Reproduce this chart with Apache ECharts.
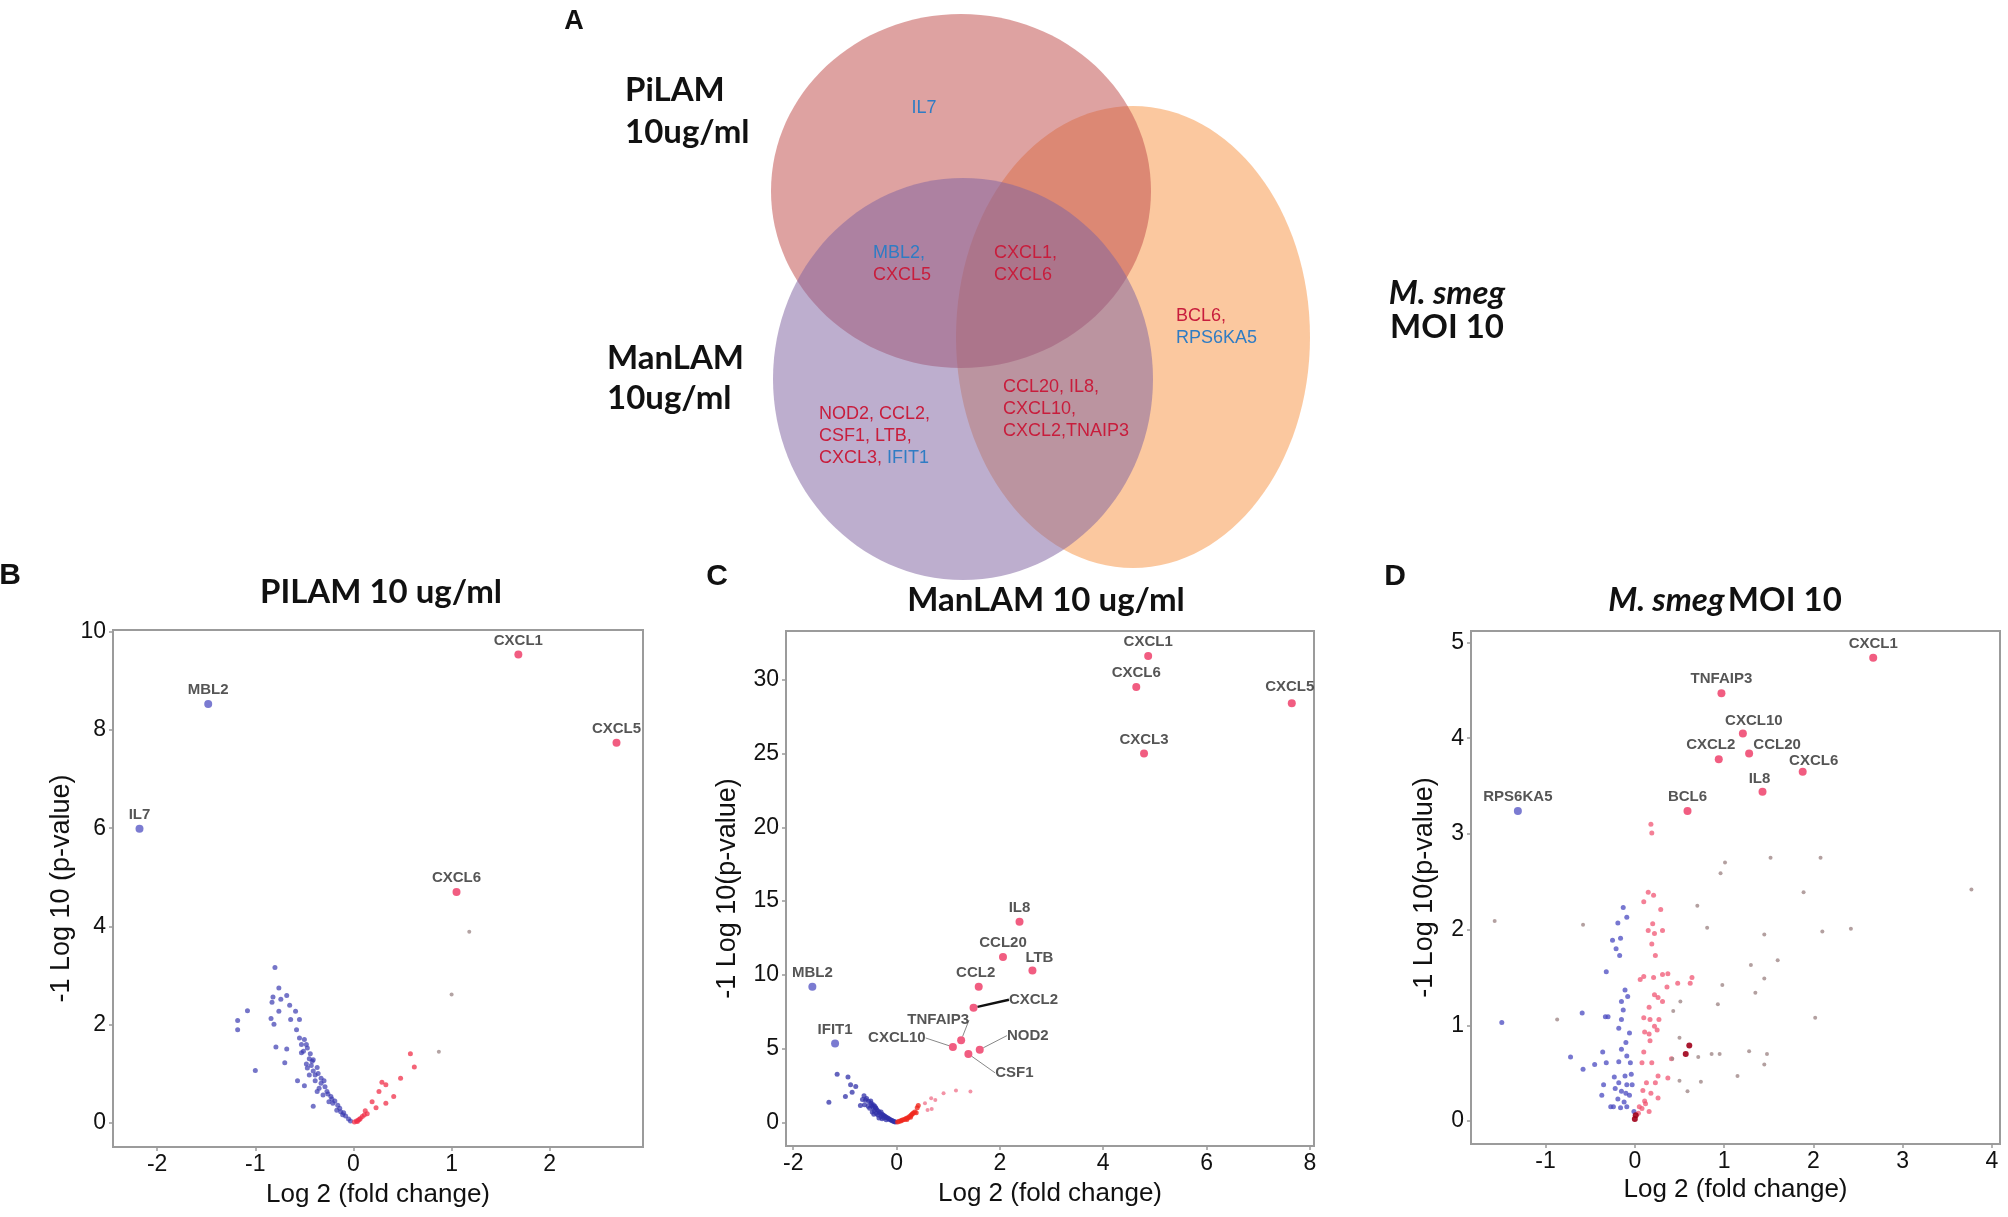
<!DOCTYPE html>
<html><head><meta charset="utf-8">
<script src="https://cdn.jsdelivr.net/npm/echarts@6/dist/echarts.min.js"></script>
<style>html,body{margin:0;padding:0;background:#fff}#c{width:2008px;height:1217px}</style>
</head><body><div id="c"></div>
<script>
// ---------------- DATA ----------------
// Venn diagram gene lists (each line: list of [gene text, direction])
const vennPiLAMOnly = [[['IL7', 'down']]];
const vennPiManOnly = [[['MBL2,', 'down']], [['CXCL5', 'up']]];
const vennAllThree = [[['CXCL1,', 'up']], [['CXCL6', 'up']]];
const vennSmegOnly = [[['BCL6,', 'up']], [['RPS6KA5', 'down']]];
const vennManSmeg = [[['CCL20, IL8,', 'up']], [['CXCL10,', 'up']], [['CXCL2,TNAIP3', 'up']]];
const vennManOnly = [[['NOD2, CCL2,', 'up']], [['CSF1, LTB,', 'up']], [['CXCL3, ', 'up'], ['IFIT1', 'down']]];

// Panel B: PILAM 10 ug/ml
const pilamXTicks = [-2, -1, 0, 1, 2];
const pilamYTicks = [0, 2, 4, 6, 8, 10];
const pilamGenes = ['IL7', 'MBL2', 'CXCL1', 'CXCL5', 'CXCL6'];
const pilamGeneX = [-2.18, -1.48, 1.68, 2.68, 1.05];
const pilamGeneY = [5.99, 8.53, 9.54, 7.74, 4.70];
const pilamGeneDir = ['down', 'down', 'up', 'up', 'up'];
const pilamDown = [[-0.80,3.16],[-0.76,2.74],[-0.82,2.56],[-0.68,2.59],[-0.74,2.51],[-0.83,2.45],[-1.08,2.28],[-0.76,2.27],[-0.59,2.27],[-0.65,2.39],[-1.18,2.08],[-1.18,1.89],[-0.84,2.12],[-0.64,2.10],[-0.55,2.10],[-0.81,2.00],[-0.58,1.89],[-0.55,1.72],[-0.50,1.69],[-0.48,1.59],[-0.53,1.59],[-0.47,1.52],[-0.79,1.54],[-0.68,1.50],[-0.51,1.45],[-0.44,1.40],[-0.70,1.22],[-0.48,1.19],[-0.43,1.16],[-0.37,1.12],[-0.41,1.05],[-1.00,1.06],[-0.39,0.97],[-0.33,0.90],[-0.57,0.85],[-0.39,0.85],[-0.50,0.75],[-0.29,0.73],[-0.35,0.70],[-0.27,0.63],[-0.23,0.53],[-0.41,0.33],[-0.19,0.44],[-0.21,0.39],[-0.14,0.29],[-0.11,0.16],[-0.08,0.13],[-0.05,0.07],[-0.03,0.03],[-0.25,0.42],[-0.31,0.56],[-0.37,0.63],[-0.45,0.97],[-0.47,1.11],[-0.41,1.28],[-0.53,1.42],[-0.33,0.80],[-0.17,0.25],[-0.13,0.22],[-0.45,1.30],[-0.42,1.25],[-0.36,1.00],[-0.30,0.85],[-0.26,0.58],[-0.22,0.48],[-0.16,0.35],[-0.10,0.20]];
const pilamUp = [[0.58,1.40],[0.62,1.13],[0.48,0.90],[0.29,0.82],[0.33,0.77],[0.26,0.63],[0.41,0.53],[0.33,0.39],[0.19,0.42],[0.23,0.30],[0.12,0.24],[0.14,0.18],[0.09,0.12],[0.07,0.08],[0.05,0.05],[0.03,0.03],[0.01,0.01],[0.11,0.15],[0.06,0.06],[0.04,0.02]];
const pilamNs = [[1.18,3.89],[1.00,2.61],[0.87,1.44]];

// Panel C: ManLAM 10 ug/ml
const manXTicks = [-2, 0, 2, 4, 6, 8];
const manYTicks = [0, 5, 10, 15, 20, 25, 30];
const manGenes = ['MBL2','IFIT1','IL8','CCL20','LTB','CCL2','CXCL2','TNFAIP3','CXCL10','NOD2','CSF1','CXCL1','CXCL6','CXCL3','CXCL5'];
const manGeneX = [-1.63,-1.19,2.38,2.06,2.63,1.59,1.49,1.25,1.09,1.61,1.39,4.87,4.64,4.79,7.65];
const manGeneY = [9.2,5.34,13.6,11.2,10.3,9.2,7.77,5.57,5.11,4.93,4.64,31.6,29.5,25.0,28.4];
const manGeneDir = ['down','down','up','up','up','up','up','up','up','up','up','up','up','up','up'];
const manDown = [[-1.15,3.27],[-0.94,3.07],[-0.89,2.55],[-0.79,2.43],[-0.86,2.05],[-0.99,1.75],[-1.31,1.36],[-0.63,1.80],[-0.60,1.52],[-0.54,1.41],[-0.49,1.30],[-0.48,1.14],[-0.50,1.45],[-0.45,1.20],[-0.46,1.05],[-0.42,1.10],[-0.40,0.95],[-0.38,0.85],[-0.43,0.80],[-0.35,0.75],[-0.33,0.65],[-0.30,0.70],[-0.28,0.55],[-0.26,0.50],[-0.24,0.45],[-0.22,0.40],[-0.20,0.35],[-0.18,0.30],[-0.16,0.28],[-0.14,0.22],[-0.12,0.18],[-0.10,0.15],[-0.08,0.11],[-0.06,0.08],[-0.04,0.05],[-0.02,0.02],[-0.39,0.60],[-0.36,0.50],[-0.30,0.40],[-0.25,0.32],[-0.41,1.00],[-0.52,0.95],[-0.55,1.10],[-0.62,1.20],[-0.70,1.15],[-0.47,0.70],[-0.44,0.55],[-0.34,0.30],[-0.28,0.25],[-0.20,0.18],[-0.66,1.55],[-0.58,1.62]];
const manUp = [[0.02,0.03],[0.05,0.07],[0.08,0.10],[0.10,0.14],[0.13,0.18],[0.16,0.22],[0.19,0.28],[0.22,0.32],[0.25,0.40],[0.28,0.48],[0.30,0.55],[0.32,0.62],[0.35,0.70],[0.38,0.65],[0.27,0.35],[0.20,0.20],[0.40,1.00],[0.42,1.15]];
const manUpFaint = [[0.60,0.84],[0.68,0.90],[0.67,1.64],[0.75,1.52],[0.91,1.98],[1.15,2.16],[1.43,2.09],[0.55,1.30]];

// Panel D: M. smeg MOI 10
const smegXTicks = [-1, 0, 1, 2, 3, 4];
const smegYTicks = [0, 1, 2, 3, 4, 5];
const smegGenes = ['CXCL1','TNFAIP3','CXCL10','CXCL2','CCL20','CXCL6','IL8','BCL6','RPS6KA5'];
const smegGeneX = [2.67,0.97,1.21,0.94,1.28,1.88,1.43,0.59,-1.31];
const smegGeneY = [4.84,4.47,4.05,3.78,3.84,3.65,3.44,3.24,3.24];
const smegGeneDir = ['up','up','up','up','up','up','up','up','down'];
const smegDown = [[-1.49,1.03],[-0.59,1.13],[-0.72,0.67],[-0.58,0.54],[-0.45,0.59],[-0.32,1.56],[-0.36,0.72],[-0.32,0.61],[-0.33,1.09],[-0.30,1.09],[-0.23,0.46],[-0.22,0.34],[-0.24,0.15],[-0.27,0.15],[-0.19,2.07],[-0.13,2.23],[-0.09,2.13],[-0.25,1.89],[-0.21,1.80],[-0.16,1.91],[-0.17,1.73],[-0.11,1.37],[-0.08,1.30],[-0.15,1.25],[-0.13,1.16],[-0.15,1.06],[-0.18,0.97],[-0.06,0.92],[-0.10,0.82],[-0.15,0.75],[-0.09,0.68],[-0.18,0.62],[-0.05,0.61],[-0.11,0.47],[-0.04,0.49],[-0.03,0.38],[-0.09,0.38],[-0.18,0.40],[-0.15,0.31],[-0.10,0.29],[-0.19,0.23],[-0.12,0.20],[-0.06,0.27],[-0.16,0.14],[-0.09,0.15],[-0.01,0.10],[-0.35,0.38],[-0.37,0.27]];
const smegUp = [[0.15,2.39],[0.21,2.36],[0.10,2.29],[0.29,2.21],[0.20,2.06],[0.15,1.99],[0.22,1.96],[0.31,1.99],[0.19,1.85],[0.23,1.73],[0.06,1.48],[0.10,1.51],[0.21,1.50],[0.31,1.53],[0.37,1.54],[0.36,1.40],[0.48,1.44],[0.64,1.50],[0.62,1.44],[0.22,1.32],[0.16,1.19],[0.26,1.29],[0.31,1.25],[0.10,1.08],[0.17,1.06],[0.27,1.06],[0.22,0.99],[0.25,0.95],[0.11,0.93],[0.16,0.91],[0.17,0.84],[0.10,0.72],[0.08,0.61],[0.19,0.61],[0.41,0.65],[0.26,0.47],[0.37,0.45],[0.23,0.40],[0.13,0.40],[0.09,0.32],[0.18,0.29],[0.26,0.24],[0.11,0.21],[0.08,0.13],[0.12,0.18],[0.16,0.10],[0.04,0.08],[0.05,0.15],[0.18,3.10],[0.19,3.01]];
const smegUpDark = [[0.57,0.70],[0.61,0.79],[0.00,0.02],[0.01,0.06]];
const smegNs = [[-1.57,2.09],[-0.87,1.06],[-0.58,2.05],[0.43,1.15],[0.50,0.87],[0.42,0.65],[0.50,0.42],[0.59,0.31],[0.71,0.67],[0.74,0.41],[0.51,1.25],[0.70,2.25],[0.81,2.02],[0.86,0.70],[0.95,0.70],[0.93,1.22],[0.98,1.42],[1.15,0.47],[1.28,0.73],[1.30,1.63],[1.35,1.34],[1.45,1.49],[1.45,1.95],[1.45,0.59],[1.48,0.70],[1.60,1.68],[1.01,2.70],[0.96,2.59],[1.52,2.75],[2.08,2.75],[1.89,2.39],[3.77,2.42],[2.42,2.01],[2.10,1.98],[2.02,1.08]];

// ---------------- STYLE / LAYOUT ----------------
const FONT = '"Liberation Sans", Arial, sans-serif';
const TFONT = 'Lato, "Open Sans", sans-serif';
const AX = '#9b9b9b';
const UP = '#ee3562', DOWN = '#5a5ac6';
const VRED = '#c81d3c', VBLUE = '#2f7cc4';

const manOffsets = {CXCL2:[60,-8], TNFAIP3:[-23,-20], CXCL10:[-56,-9], NOD2:[48,-14], CSF1:[46,19], LTB:[7,-13], CCL2:[-3,-14], CXCL5:[-2,-16]};
const manLeaders = ['CXCL2','TNFAIP3','CXCL10','NOD2','CSF1'];
const smegOffsets = {CXCL10:[11,-13], CXCL2:[-8,-14], CCL20:[28,-9], CXCL6:[11,-11], IL8:[-3,-13]};
const pilamOffsets = {};

const grids = [
  {left:113, top:630, width:530, height:517},
  {left:786, top:631, width:528, height:515},
  {left:1471, top:631, width:529, height:513}
];

function mkX(gi, min, max, ticks, gap){
  return {type:'value', gridIndex:gi, min:min, max:max,
    axisLine:{show:true, onZero:false, lineStyle:{color:AX, width:2}},
    axisTick:{show:true, length:4, customValues:ticks, lineStyle:{color:AX, width:1.5}},
    axisLabel:{customValues:ticks, fontSize:23, color:'#111', margin:6, fontFamily:FONT},
    splitLine:{show:false},
    name:'Log 2 (fold change)', nameLocation:'middle', nameGap:gap,
    nameTextStyle:{fontSize:26, color:'#111', fontFamily:FONT}};
}
function mkY(gi, min, max, ticks, name, gap){
  return {type:'value', gridIndex:gi, min:min, max:max,
    axisLine:{show:true, onZero:false, lineStyle:{color:AX, width:2}},
    axisTick:{show:true, length:4, customValues:ticks, lineStyle:{color:AX, width:1.5}},
    axisLabel:{customValues:ticks, fontSize:23, color:'#111', margin:7, fontFamily:FONT},
    splitLine:{show:false},
    name:name, nameLocation:'middle', nameGap:gap,
    nameTextStyle:{fontSize:27, color:'#111', fontFamily:FONT}};
}
function pts(gi, data, color, size, op){
  return {type:'scatter', xAxisIndex:gi, yAxisIndex:gi, data:data, symbolSize:size, silent:true, z:2,
    itemStyle:{color:color, opacity:op}};
}
function geneSeries(gi, names, xs, ys, dirs, offsets, leaders, thick){
  return {type:'scatter', xAxisIndex:gi, yAxisIndex:gi, z:5, symbolSize:8, silent:true,
    data:names.map(function(n,i){return {name:n, value:[xs[i], ys[i]],
      itemStyle:{color: dirs[i]==='down' ? DOWN : UP},
      labelLine:{show: leaders.indexOf(n) >= 0,
        lineStyle:{color: n===thick ? '#111' : '#888', width: n===thick ? 2.5 : 1}}};}),
    label:{show:true, position:'inside', formatter:'{b}', fontSize:15, fontWeight:'bold', color:'#2a2a2a', fontFamily:FONT},
    labelLayout:function(p){var o = offsets[names[p.dataIndex]] || [0,-14]; return {dx:o[0], dy:o[1]};},
    labelLine:{show:false}};
}

function vennText(lines, x, y, align){
  return lines.map(function(line, li){
    var txt = line.map(function(s){return '{' + (s[1]==='up'?'r':'b') + '|' + s[0] + '}';}).join('');
    return {type:'text', x:x, y:y + li*22, z:20, silent:true,
      style:{text:txt, align:align||'left', verticalAlign:'middle',
        rich:{r:{fill:VRED, font:'18px ' + FONT}, b:{fill:VBLUE, font:'18px ' + FONT}}}};
  });
}
function label(text, x, y, font, align){
  return {type:'text', x:x, y:y, z:20, silent:true,
    style:{text:text, font:font, fill:'#111', align:align||'left', verticalAlign:'middle'}};
}

const graphic = [
  {type:'ellipse', shape:{cx:1133, cy:337, rx:177, ry:231}, style:{fill:'rgba(247,150,70,0.52)'}, z:1, silent:true},
  {type:'ellipse', shape:{cx:961, cy:191, rx:190, ry:177}, style:{fill:'rgba(192,80,77,0.53)'}, z:2, silent:true},
  {type:'ellipse', shape:{cx:963, cy:379, rx:190, ry:201}, style:{fill:'rgba(128,100,162,0.52)'}, z:3, silent:true}
]
.concat(vennText(vennPiLAMOnly, 924, 108, 'center'))
.concat(vennText(vennPiManOnly, 873, 253))
.concat(vennText(vennAllThree, 994, 253))
.concat(vennText(vennSmegOnly, 1176, 316))
.concat(vennText(vennManSmeg, 1003, 387))
.concat(vennText(vennManOnly, 819, 414))
.concat([
  label('A', 574, 22, 'bold 27px ' + FONT, 'center'),
  label('B', 10, 576, 'bold 30px ' + FONT, 'center'),
  label('C', 717, 577, 'bold 30px ' + FONT, 'center'),
  label('D', 1395, 577, 'bold 30px ' + FONT, 'center'),
  label('PiLAM', 625, 90, 'bold 33px ' + TFONT),
  label('10ug/ml', 625, 132, 'bold 33px ' + TFONT),
  label('ManLAM', 607, 358, 'bold 33px ' + TFONT),
  label('10ug/ml', 607, 398, 'bold 33px ' + TFONT),
  label('M. smeg', 1447, 293, 'italic bold 33px ' + TFONT, 'center'),
  label('MOI 10', 1447, 327, 'bold 33px ' + TFONT, 'center'),
  label('PILAM 10 ug/ml', 381, 592, 'bold 33px ' + TFONT, 'center'),
  label('ManLAM 10 ug/ml', 1046, 600, 'bold 33px ' + TFONT, 'center'),
  {type:'text', x:1725, y:600, z:20, silent:true,
    style:{text:'{i|M. smeg} {n|MOI 10}', align:'center', verticalAlign:'middle',
      rich:{i:{font:'italic bold 33px ' + TFONT, fill:'#111'}, n:{font:'bold 33px ' + TFONT, fill:'#111'}}}}
]);

const option = {
  animation:false,
  backgroundColor:'#fff',
  grid: grids.map(function(g){return Object.assign({show:true, borderColor:AX, borderWidth:2, backgroundColor:'transparent'}, g);}),
  xAxis:[mkX(0, -2.45, 2.95, pilamXTicks, 35), mkX(1, -2.14, 8.08, manXTicks, 35), mkX(2, -1.835, 4.09, smegXTicks, 33)],
  yAxis:[mkY(0, -0.5, 10.04, pilamYTicks, '-1 Log 10 (p-value)', 38), mkY(1, -1.6, 33.3, manYTicks, '-1 Log 10(p-value)', 45), mkY(2, -0.24, 5.12, smegYTicks, '-1 Log 10(p-value)', 33)],
  graphic: graphic,
  series:[
    pts(0, pilamDown, '#3b3bb0', 5, 0.7),
    pts(0, pilamUp, '#f0304a', 5, 0.75),
    pts(0, pilamNs, '#a08c8c', 4, 0.8),
    geneSeries(0, pilamGenes, pilamGeneX, pilamGeneY, pilamGeneDir, pilamOffsets, [], null),
    pts(1, manDown, '#3030a8', 5, 0.75),
    pts(1, manUp, '#f0281e', 5, 0.8),
    pts(1, manUpFaint, '#f07890', 4, 0.8),
    geneSeries(1, manGenes, manGeneX, manGeneY, manGeneDir, manOffsets, manLeaders, 'CXCL2'),
    pts(2, smegDown, '#4a4ac0', 5, 0.75),
    pts(2, smegUp, '#f04a6a', 5, 0.7),
    pts(2, smegUpDark, '#a0001a', 6, 0.9),
    pts(2, smegNs, '#a08888', 4, 0.8),
    geneSeries(2, smegGenes, smegGeneX, smegGeneY, smegGeneDir, smegOffsets, [], null)
  ]
};
const chart = echarts.init(document.getElementById('c'), null, {renderer:'canvas'});
chart.setOption(option);
</script>
</body></html>
